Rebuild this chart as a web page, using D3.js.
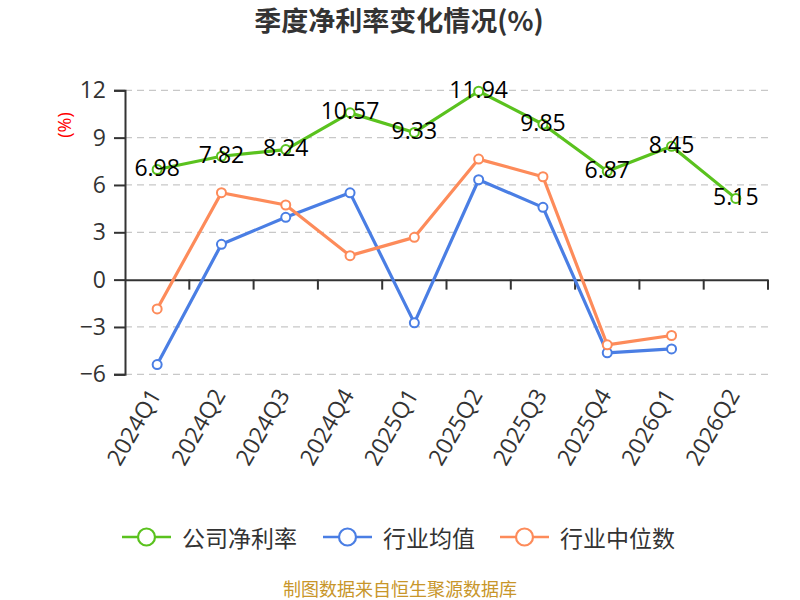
<!DOCTYPE html>
<html>
<head>
<meta charset="utf-8">
<script src="https://cdn.jsdelivr.net/npm/d3@7/dist/d3.min.js"></script>
<style>
  html, body { margin: 0; padding: 0; background: #fff; }
  svg { display: block; font-family: "Open Sans", "Noto Sans CJK SC", sans-serif; }
</style>
</head>
<body>
<svg id="chart" width="800" height="600"></svg>
<script>
const categories = ["2024Q1","2024Q2","2024Q3","2024Q4","2025Q1","2025Q2","2025Q3","2025Q4","2026Q1","2026Q2"];
const companyNetMargin = [6.98, 7.82, 8.24, 10.57, 9.33, 11.94, 9.85, 6.87, 8.45, 5.15];
const industryMean =     [-5.38, 2.24, 3.95, 5.50, -2.74, 6.33, 4.58, -4.64, -4.39, null];
const industryMedian =   [-1.86, 5.51, 4.73, 1.52, 2.68, 7.64, 6.52, -4.13, -3.54, null];
const yTicks = [-6, -3, 0, 3, 6, 9, 12];
const seriesNames = ["公司净利率", "行业均值", "行业中位数"];
const seriesColors = ["#5ac21e", "#4a7ee4", "#fd8b5a"];

const svg = d3.select("#chart");
const plotLeft = 125, plotRight = 768, plotTop = 90.3, plotBottom = 374.3;

const x = d3.scaleBand().domain(categories).range([plotLeft, plotRight]);
const y = d3.scaleLinear().domain([-6, 12]).range([plotBottom, plotTop]);

// Title
svg.append("text").attr("x", 399).attr("y", 31).attr("text-anchor", "middle")
  .attr("font-size", 27).attr("font-weight", "bold").attr("fill", "#333")
  .attr("font-family", "'Noto Sans CJK SC', sans-serif")
  .text("季度净利率变化情况(%)");

// Y axis unit label
svg.append("text").attr("transform", "translate(64,125) rotate(-90)")
  .attr("text-anchor", "middle").attr("dominant-baseline", "central")
  .attr("font-size", 18).attr("fill", "#f00").text("(%)");

// Grid lines
svg.append("g").selectAll("line").data(yTicks.filter(d => d !== 0)).join("line")
  .attr("x1", plotLeft).attr("x2", plotRight)
  .attr("y1", d => y(d)).attr("y2", d => y(d))
  .attr("stroke", "#c8c8c8").attr("stroke-width", 1.3).attr("stroke-dasharray", "7,5");

// Y axis
const yAxis = d3.axisLeft(y).tickValues(yTicks).tickSize(11).tickPadding(8).tickFormat(d3.format("d"));
const yg = svg.append("g").attr("transform", `translate(${plotLeft},0)`).call(yAxis);
yg.select(".domain").attr("stroke", "#333").attr("stroke-width", 2);
yg.selectAll(".tick line").attr("stroke", "#333").attr("stroke-width", 2);
yg.selectAll(".tick text").attr("font-size", 23).attr("fill", "#333")
  .attr("font-family", "'Open Sans', sans-serif");

// X axis at zero
const xAxis = d3.axisBottom(x).tickSize(0).tickFormat("");
const xg = svg.append("g").attr("transform", `translate(0,${y(0)})`).call(xAxis);
xg.select(".domain").attr("stroke", "#333").attr("stroke-width", 2);
const boundaries = categories.map((c, i) => x(c) + x.bandwidth());
xg.selectAll(".bt").data(boundaries).join("line").attr("class", "bt")
  .attr("x1", d => d).attr("x2", d => d).attr("y1", 0).attr("y2", 10)
  .attr("stroke", "#333").attr("stroke-width", 2);

// X labels at bottom, rotated
svg.append("g").selectAll("text").data(categories).join("text")
  .attr("transform", d => `translate(${x(d) + x.bandwidth() / 2 - 3},${plotBottom + 16}) rotate(-60)`)
  .attr("text-anchor", "end").attr("dominant-baseline", "central")
  .attr("font-size", 23).attr("fill", "#333")
  .attr("font-family", "'Open Sans', sans-serif")
  .text(d => d);

// Lines
const cx = d => x(d) + x.bandwidth() / 2;
const allSeries = [companyNetMargin, industryMean, industryMedian];
const line = d3.line().defined(d => d.v !== null).x(d => cx(d.c)).y(d => y(d.v));

allSeries.forEach((vals, si) => {
  const data = categories.map((c, i) => ({ c, v: vals[i] }));
  const g = svg.append("g");
  g.append("path").datum(data).attr("d", line).attr("fill", "none")
    .attr("stroke", seriesColors[si]).attr("stroke-width", 3.2).attr("stroke-linejoin", "round");
  g.selectAll("circle").data(data.filter(d => d.v !== null)).join("circle")
    .attr("cx", d => cx(d.c)).attr("cy", d => y(d.v)).attr("r", 4.5)
    .attr("fill", "#fff").attr("stroke", seriesColors[si]).attr("stroke-width", 2);
});

// Data labels for company series
svg.append("g").selectAll("text").data(categories.map((c, i) => ({ c, v: companyNetMargin[i] }))).join("text")
  .attr("x", d => cx(d.c)).attr("y", d => y(d.v) - 2.5)
  .attr("text-anchor", "middle").attr("dominant-baseline", "central")
  .attr("font-size", 23).attr("fill", "#000")
  .attr("font-family", "'Open Sans', sans-serif")
  .text(d => d.v.toFixed(2));

// Legend
const legendItems = [
  { name: seriesNames[0], color: seriesColors[0], x0: 122 },
  { name: seriesNames[1], color: seriesColors[1], x0: 323 },
  { name: seriesNames[2], color: seriesColors[2], x0: 500 }
];
const lg = svg.append("g");
legendItems.forEach(it => {
  const ly = 537;
  lg.append("line").attr("x1", it.x0).attr("x2", it.x0 + 49).attr("y1", ly).attr("y2", ly)
    .attr("stroke", it.color).attr("stroke-width", 2.5);
  lg.append("circle").attr("cx", it.x0 + 24.5).attr("cy", ly).attr("r", 8.5)
    .attr("fill", "#fff").attr("stroke", it.color).attr("stroke-width", 2.2);
  lg.append("text").attr("x", it.x0 + 60).attr("y", ly).attr("dominant-baseline", "central")
    .attr("font-size", 23).attr("fill", "#333")
    .attr("font-family", "'Noto Sans CJK SC', sans-serif")
    .text(it.name);
});

// Footer
svg.append("text").attr("x", 400).attr("y", 588).attr("text-anchor", "middle")
  .attr("dominant-baseline", "central")
  .attr("font-size", 18).attr("fill", "#c8962a")
  .attr("font-family", "'Noto Sans CJK SC', sans-serif")
  .text("制图数据来自恒生聚源数据库");
</script>
</body>
</html>
